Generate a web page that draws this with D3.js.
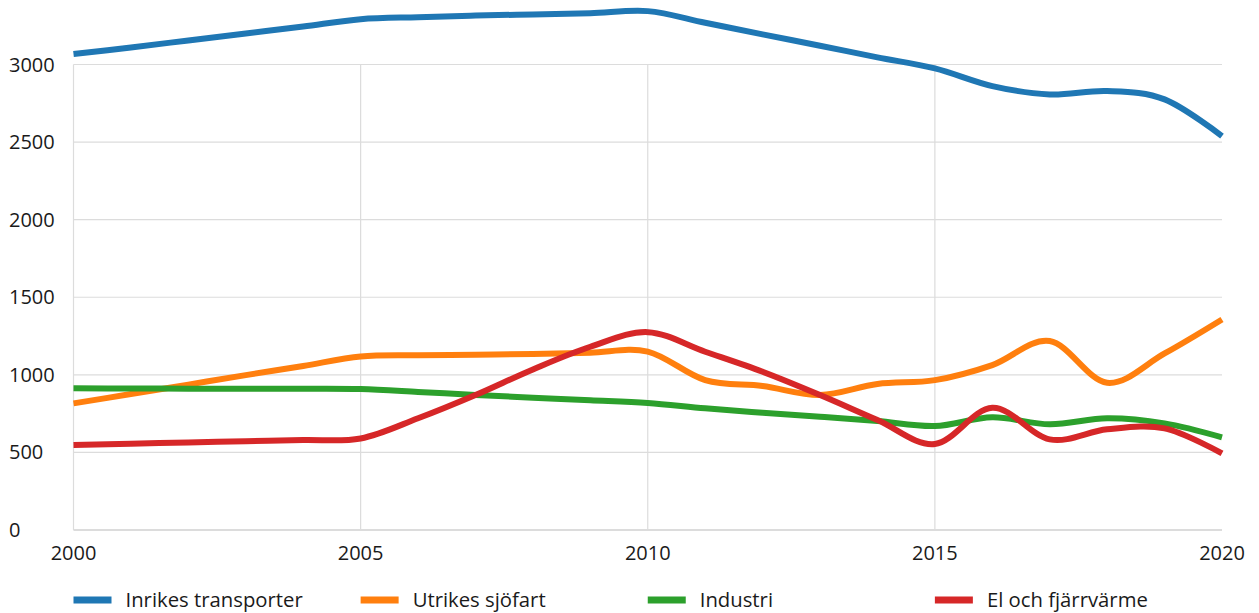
<!DOCTYPE html>
<html>
<head>
<meta charset="utf-8">
<script src="https://cdn.jsdelivr.net/npm/d3@7"></script>
<style>
  body { margin: 0; background: #fff; }
  text { font-family: "Open Sans", sans-serif; fill: #1a1a1a; }
</style>
</head>
<body>
<svg id="chart" width="1259" height="613"></svg>
<script>
// data
const years = d3.range(2000, 2021);
const inrikes = [3067, 3110, 3155, 3200, 3245, 3292, 3305, 3315, 3323, 3330, 3344, 3269, 3194, 3121, 3046, 2975, 2861, 2807, 2829, 2775, 2539];
const utrikes = [816, 876, 937, 998, 1057, 1118, 1126, 1130, 1135, 1143, 1150, 966, 928, 870, 941, 966, 1063, 1218, 949, 1138, 1357];
const industri = [913, 912, 911, 910, 910, 908, 890, 870, 853, 836, 818, 784, 756, 730, 702, 670, 726, 681, 720, 687, 597];
const el = [548, 556, 564, 572, 580, 590, 720, 870, 1035, 1181, 1275, 1149, 1020, 870, 709, 554, 788, 584, 649, 655, 494];

const seriesNames = ['Inrikes transporter', 'Utrikes sjöfart', 'Industri', 'El och fjärrvärme'];
const seriesValues = [inrikes, utrikes, industri, el];
const colors = ['#1f77b4', '#ff7f0e', '#2ca02c', '#d62728'];
const yTicks = [0, 500, 1000, 1500, 2000, 2500, 3000];
const xTicks = [2000, 2005, 2010, 2015, 2020];

const svg = d3.select('#chart');

const xScale = d3.scaleLinear()
    .domain([2000, 2020])
    .range([73.5, 1222]);

const yScale = d3.scaleLinear()
    .domain([0, 3000])
    .range([530, 64.5]);

// horizontal grid
svg.append('g')
    .selectAll('line')
    .data(yTicks)
    .enter()
    .append('line')
    .attr('x1', xScale(2000))
    .attr('x2', xScale(2020))
    .attr('y1', d => yScale(d))
    .attr('y2', d => yScale(d))
    .style('stroke', '#dcdcdc')
    .style('stroke-width', d => d === 0 ? 2 : 1.2);

// vertical grid (no line at the right edge)
svg.append('g')
    .selectAll('line')
    .data(xTicks.slice(0, -1))
    .enter()
    .append('line')
    .attr('x1', d => xScale(d))
    .attr('x2', d => xScale(d))
    .attr('y1', yScale(3000))
    .attr('y2', yScale(0))
    .style('stroke', '#dcdcdc')
    .style('stroke-width', 1.2);

// y labels, left aligned
svg.append('g')
    .selectAll('text')
    .data(yTicks)
    .enter()
    .append('text')
    .attr('x', 9)
    .attr('y', d => yScale(d) + 7)
    .style('font-size', '20px')
    .text(d => d);

// x labels
svg.append('g')
    .selectAll('text')
    .data(xTicks)
    .enter()
    .append('text')
    .attr('x', d => xScale(d))
    .attr('y', 560)
    .style('text-anchor', 'middle')
    .style('font-size', '20px')
    .text(d => d);

// lines
const line = d3.line()
    .x((d, i) => xScale(years[i]))
    .y(d => yScale(d))
    .curve(d3.curveCardinal.tension(0));

svg.append('g')
    .selectAll('path')
    .data(seriesValues)
    .enter()
    .append('path')
    .attr('d', line)
    .style('fill', 'none')
    .style('stroke', (d, i) => colors[i])
    .style('stroke-width', 6)
    .style('stroke-linejoin', 'round');

// legend
const legend = svg.append('g')
    .selectAll('g')
    .data(seriesNames)
    .enter()
    .append('g')
    .attr('transform', (d, i) => 'translate(' + xScale(xTicks[i]) + ',600)');

legend.append('rect')
    .attr('x', 0)
    .attr('y', -3.5)
    .attr('width', 38)
    .attr('height', 7)
    .style('fill', (d, i) => colors[i]);

legend.append('text')
    .attr('x', 52)
    .attr('y', 6.5)
    .style('font-size', '20.3px')
    .text(d => d);
</script>
</body>
</html>
